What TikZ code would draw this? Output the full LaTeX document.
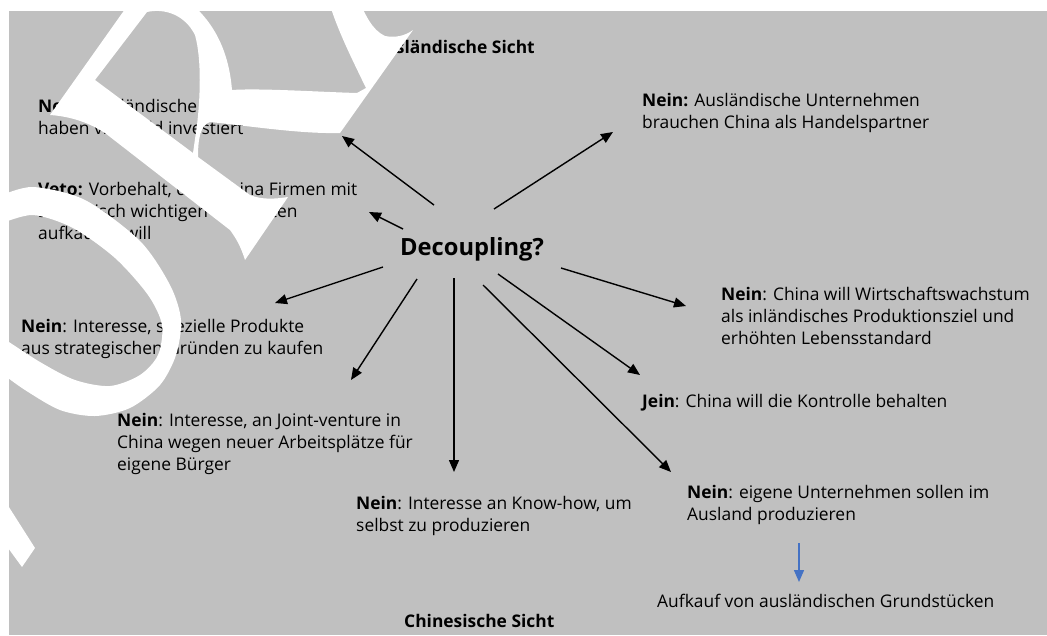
\documentclass[tikz,border=0pt]{standalone}
\usepackage{fontspec}
\setmainfont{Open Sans}
\usetikzlibrary{arrows.meta}

\definecolor{bggray}{HTML}{C0C0C0}
\definecolor{arrowblue}{HTML}{4472C4}
\tikzset{
  txt/.style={anchor=base west, inner sep=0pt, font=\fontsize{17.4}{22}\selectfont},
  head/.style={inner sep=0pt, font=\fontsize{17.4}{22}\selectfont\bfseries},
  arr/.style={line width=1.4pt, -{Triangle[length=12pt,width=10pt]}},
}
\newcommand{\lines}[1]{\begin{tabular}[t]{@{}l@{}}#1\end{tabular}}

\begin{document}
\begin{tikzpicture}[x=1pt,y=-1pt]
    \useasboundingbox (0,0) rectangle (1047,635);
    \fill[bggray] (9,11) rectangle (1047,635);

    % Centre and headings
    \node[anchor=base west, inner sep=0pt, font=\fontsize{23.7}{28}\selectfont\bfseries] (dec) at (400,255) {Decoupling?};
    \node[head, anchor=base east] (ausl) at (535,53) {Ausländische Sicht};
    \node[head, anchor=base west] (chin) at (404,627) {Chinesische Sicht};

    % Foreign view
    \node[txt] (fa) at (38,112) {\lines{\textbf{Nein:} Ausländische Unternehmen\\haben viel Geld investiert}};
    \node[txt] (veto) at (38,195) {\lines{\textbf{Veto:} Vorbehalt, dass China Firmen mit\\strategisch wichtigen Produkten\\aufkaufen will}};
    \node[txt] (fb) at (642,106) {\lines{\textbf{Nein:} Ausländische Unternehmen\\brauchen China als Handelspartner}};

    % Chinese view
    \node[txt] (ca) at (721,300) {\lines{\textbf{Nein}: China will Wirtschaftswachstum\\als inländisches Produktionsziel und\\erhöhten Lebensstandard}};
    \node[txt] (jein) at (642,407) {\textbf{Jein}: China will die Kontrolle behalten};
    \node[txt] (cb) at (687,498) {\lines{\textbf{Nein}: eigene Unternehmen sollen im\\Ausland produzieren}};
    \node[txt] (grund) at (657,607) {Aufkauf von ausländischen Grundstücken};
    \node[txt] (cc) at (356,509) {\lines{\textbf{Nein}: Interesse an Know-how, um\\selbst zu produzieren}};
    \node[txt] (cd) at (117,426) {\lines{\textbf{Nein}: Interesse, an Joint-venture in\\China wegen neuer Arbeitsplätze für\\eigene Bürger}};
    \node[txt] (ce) at (21,332) {\lines{\textbf{Nein}: Interesse, spezielle Produkte\\aus strategischen Gründen zu kaufen}};

    % Arrow ends
    \coordinate (s1) at (434,205); \coordinate (e1) at (342,136);
    \coordinate (s2) at (403,229); \coordinate (e2) at (369,212);
    \coordinate (s3) at (494,209); \coordinate (e3) at (613,132);
    \coordinate (s4) at (383,267); \coordinate (e4) at (275,303);
    \coordinate (s5) at (417,279); \coordinate (e5) at (351,380);
    \coordinate (s6) at (454,278); \coordinate (e6) at (454,472);
    \coordinate (s7) at (561,268); \coordinate (e7) at (686,306);
    \coordinate (s8) at (498,274); \coordinate (e8) at (640,375);
    \coordinate (s9) at (483,285); \coordinate (e9) at (671,472);
    \foreach \i in {1,...,9} \draw[arr] (s\i) -- (e\i);

    % Blue arrow to land purchase
    \coordinate (b1) at (799,543); \coordinate (b2) at (799,582);
    \draw[arr, arrowblue] (b1) -- (b2);

    % Watermark letters over everything
    \fill[white, even odd rule]
      (50,115) -- (135,-5) -- (180,-5) .. controls (205,12) and (228,40) .. (232,90)
      .. controls (260,88) and (320,92) .. (357,93) -- (366,88)
      .. controls (350,55) and (335,25) .. (327,-5) -- (357,-5)
      .. controls (365,15) and (372,30) .. (385,36) .. controls (395,38) and (405,36) .. (413,30)
      -- (340,133) .. controls (300,134) and (250,126) .. (210,122)
      .. controls (200,125) and (198,140) .. (198,157) -- (250,195)
      .. controls (262,200) and (275,199) .. (288,197) -- (245,260)
      .. controls (241,247) and (236,238) .. (230,230) -- (105,133)
      .. controls (85,120) and (65,116) .. (50,115) -- cycle
      (95,80) -- (147,12) .. controls (165,8) and (185,15) .. (195,35)
      .. controls (202,60) and (200,100) .. (197,125) -- (193,153) -- cycle;
    \fill[white, even odd rule]
      plot[smooth] coordinates {(0,196) (33,187) (85,200) (140,241) (170,285) (181,320) (176,355) (160,385) (130,408) (95,416) (60,410) (25,390) (0,372)}
      -- (-5,372) -- (-5,196) -- cycle
      plot[smooth] coordinates {(0,224) (33,215) (73,228) (115,258) (148,295) (162,325) (158,355) (140,375) (110,386) (75,380) (40,362) (0,336)}
      -- (-5,336) -- (-5,224) -- cycle;
    \fill[white] (0,493) -- (35,548) -- (22,567) -- (0,537) -- cycle;
\end{tikzpicture}
\end{document}
